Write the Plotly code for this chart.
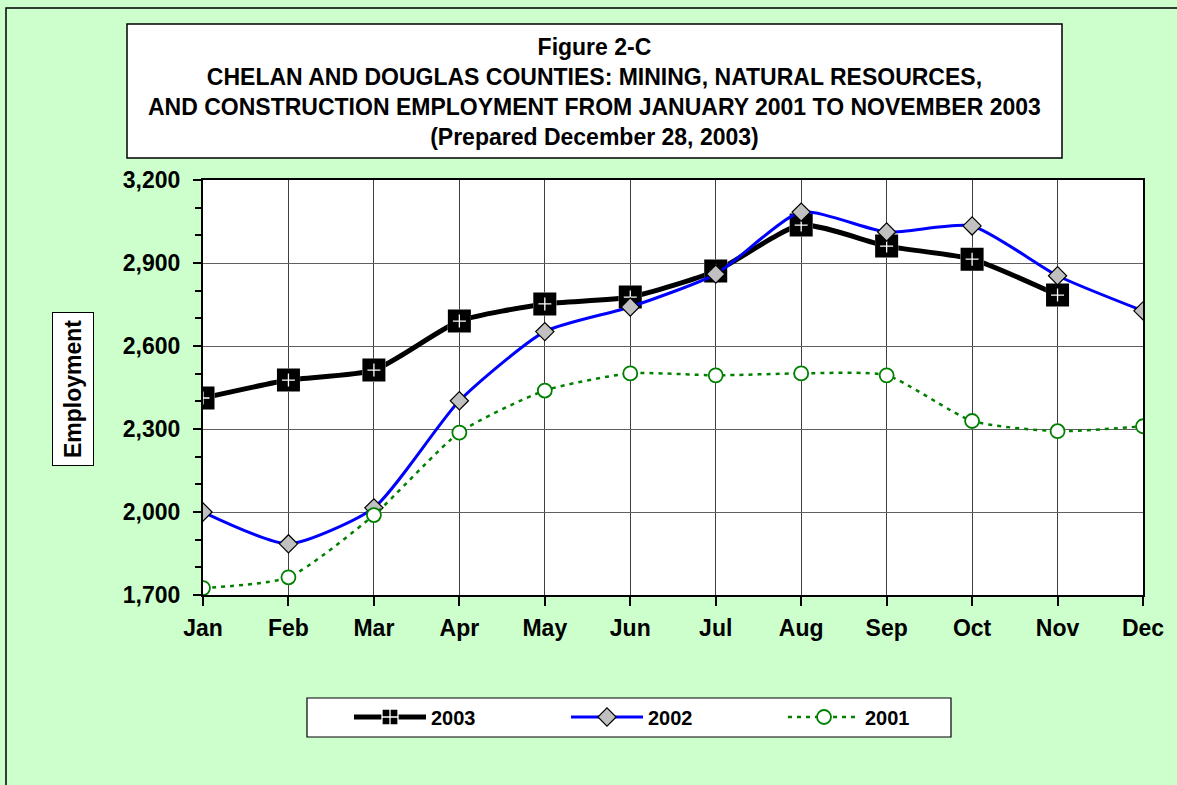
import plotly.graph_objects as go

months = ["Jan", "Feb", "Mar", "Apr", "May", "Jun", "Jul", "Aug", "Sep", "Oct", "Nov", "Dec"]
emp_2003 = [2412, 2477, 2513, 2690, 2752, 2777, 2871, 3037, 2961, 2914, 2784]
emp_2002 = [2000, 1885, 2015, 2402, 2652, 2741, 2860, 3084, 3012, 3034, 2854, 2727]
emp_2001 = [1725, 1764, 1989, 2287, 2439, 2501, 2494, 2501, 2494, 2329, 2292, 2310]
y_ticks = [1700, 2000, 2300, 2600, 2900, 3200]

W, H = 1177, 785
L, R, T, B = 203, 1143, 180, 595

def px_x(p):
    return (p - L) / (R - L)

def px_y(p):
    return (B - p) / (B - T)

FONT = "Liberation Sans, Arial, sans-serif"
xs = list(range(len(months)))
x03 = xs[:len(emp_2003)]

fig = go.Figure()
fig.add_trace(go.Scatter(
    x=x03, y=emp_2003, name="2003", mode="lines+markers",
    line=dict(color="black", width=5, shape="spline", smoothing=0.6),
    marker=dict(symbol="square-cross", size=22, color="black",
                line=dict(color="white", width=1.3)),
))
# black frame over the 2003 markers so the white cross sits inside a solid square
fig.add_trace(go.Scatter(
    x=x03, y=emp_2003, name="2003", mode="markers", showlegend=False,
    hoverinfo="skip",
    marker=dict(symbol="square-open", size=18, color="black",
                line=dict(color="black", width=5)),
))
fig.add_trace(go.Scatter(
    x=xs, y=emp_2002, name="2002", mode="lines+markers",
    line=dict(color="#0000FF", width=3, shape="spline", smoothing=0.6),
    marker=dict(symbol="diamond", size=14, color="#C0C0C0",
                line=dict(color="black", width=1.2)),
))
fig.add_trace(go.Scatter(
    x=xs, y=emp_2001, name="2001", mode="lines+markers",
    line=dict(color="#008000", width=2.5, shape="spline", smoothing=0.6, dash="4px,5px"),
    marker=dict(symbol="circle", size=14, color="white",
                line=dict(color="#008000", width=1.8)),
))

fig.update_layout(
    width=W, height=H,
    margin=dict(l=L, r=W - R, t=T, b=H - B, pad=0),
    paper_bgcolor="#CCFFCC",
    plot_bgcolor="white",
    font=dict(family=FONT, color="black"),
    showlegend=True,
    legend=dict(
        orientation="h", x=px_x(349), xanchor="left", y=px_y(717), yanchor="middle",
        bgcolor="rgba(0,0,0,0)", borderwidth=0,
        font=dict(family=FONT, size=20, weight="bold"),
        itemwidth=72, entrywidth=130, entrywidthmode="pixels",
        traceorder="normal",
    ),
    xaxis=dict(
        range=[0, len(months) - 1], tickvals=xs, ticktext=months,
        showgrid=True, gridcolor="#404040", gridwidth=1,
        showline=True, linecolor="black", linewidth=2, mirror=True,
        ticks="outside", ticklen=9, tickcolor="black", tickwidth=1.5,
        tickfont=dict(family=FONT, size=23, weight="bold"),
        ticklabelstandoff=2, zeroline=False,
    ),
    yaxis=dict(
        range=[1700, 3200], tickvals=y_ticks, tickformat=",d",
        showgrid=True, gridcolor="#606060", gridwidth=1,
        showline=True, linecolor="black", linewidth=2, mirror=True,
        ticks="outside", ticklen=8, tickcolor="black", tickwidth=1.5,
        minor=dict(dtick=100, ticks="outside", ticklen=6, tickcolor="black",
                   tickwidth=1.5, showgrid=False),
        tickfont=dict(family=FONT, size=23, weight="bold"),
        ticklabelstandoff=8, zeroline=False,
    ),
)

# outer chart border
fig.add_shape(type="rect", xref="paper", yref="paper",
              x0=px_x(6), x1=px_x(1190), y0=px_y(800), y1=px_y(8),
              line=dict(color="black", width=1.5), fillcolor="rgba(0,0,0,0)", layer="below")
# title box
fig.add_shape(type="rect", xref="paper", yref="paper",
              x0=px_x(127), x1=px_x(1062), y0=px_y(158), y1=px_y(24),
              line=dict(color="black", width=1.5), fillcolor="white")
# legend box
fig.add_shape(type="rect", xref="paper", yref="paper",
              x0=px_x(307), x1=px_x(951), y0=px_y(737), y1=px_y(698),
              line=dict(color="black", width=1.2), fillcolor="white", layer="below")
fig.add_annotation(
    xref="paper", yref="paper", x=px_x(594.5), y=px_y(92),
    xanchor="center", yanchor="middle", showarrow=False, align="center",
    text=("Figure 2-C<br>CHELAN AND DOUGLAS COUNTIES: MINING, NATURAL RESOURCES,<br>"
          "AND CONSTRUCTION EMPLOYMENT FROM JANUARY 2001 TO NOVEMBER 2003<br>"
          "(Prepared December 28, 2003)"),
    font=dict(family=FONT, size=23, weight="bold", color="black"),
)
# y-axis title box
fig.add_annotation(
    xref="paper", yref="paper", x=px_x(73), y=px_y(389),
    xanchor="center", yanchor="middle", showarrow=False,
    text="Employment", textangle=-90,
    font=dict(family=FONT, size=23, weight="bold", color="black"),
    bgcolor="white", bordercolor="black", borderwidth=1, borderpad=7,
)

fig.write_html("out.html", config={"displayModeBar": False},
               post_script="document.body.style.margin='0';")
